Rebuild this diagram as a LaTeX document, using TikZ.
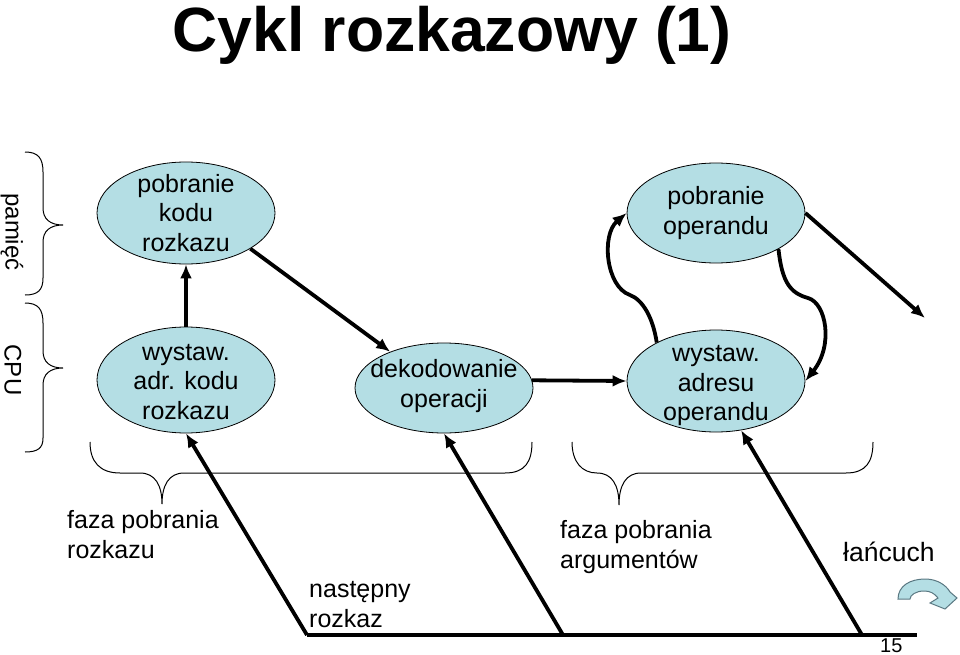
\documentclass[tikz,border=0pt]{standalone}
\usepackage{fontspec}
\setmainfont{Liberation Sans}
\usepackage{xcolor}
\usepackage{tikz}
\usetikzlibrary{shapes,arrows.meta,positioning,calc}
\definecolor{stagefill}{RGB}{180,222,228}
\definecolor{iconline}{RGB}{90,120,130}

\begin{document}
\begin{tikzpicture}[x=1pt,y=-1pt,
  stage/.style={draw, ellipse, fill=stagefill, line width=0.8pt, minimum width=178pt, minimum height=102pt, inner sep=0pt},
  inside/.style={font=\fontsize{25}{29.5}\selectfont, align=center, inner sep=0pt},
  flow/.style={line width=3.8pt, -{Latex[length=14pt,width=12pt]}},
  curly/.style={line width=1pt},
  lbl/.style={font=\fontsize{25}{30}\selectfont, align=left, inner sep=0pt, anchor=north west}]
\useasboundingbox (0,0) rectangle (960,655);

\node[font=\fontsize{62.5}{70}\selectfont\bfseries, anchor=base, inner sep=0pt] (title) at (452,52) {Cykl rozkazowy (1)};

% stany cyklu
\node[stage, label={[inside]center:{pobranie\\kodu\\rozkazu}}] (pk) at (186,213) {};
\node[stage, minimum height=106pt, below of=pk, node distance=167pt, label={[inside, yshift=-2pt]center:{wystaw.\\adr. kodu\\rozkazu}}] (wk) {};
\node[stage, minimum height=90pt, label={[inside, yshift=2pt]center:{dekodowanie\\operacji}}] (dek) at (444,388) {};
\node[stage, minimum height=100pt, label={[inside]center:{pobranie\\operandu}}] (po) at (716,213) {};
\node[stage, below of=po, node distance=168pt, label={[inside, yshift=-5pt]center:{wystaw.\\adresu\\operandu}}] (wa) {};

% klamry z lewej
\draw[curly] (25,152) .. controls (38,152) and (43,158) .. (43,172) -- (43,208) .. controls (43,219) and (50,225) .. (63,225) .. controls (50,225) and (43,231) .. (43,242) -- (43,278) .. controls (43,290) and (38,295) .. (25,295);
\draw[curly] (25,303) .. controls (38,303) and (43,309) .. (43,323) -- (43,351) .. controls (43,362) and (50,368) .. (63,368) .. controls (50,368) and (43,374) .. (43,385) -- (43,438) .. controls (43,448) and (38,452) .. (25,452);
\node[rotate=-90, font=\fontsize{24}{30}\selectfont, inner sep=0pt] (mem) at (12,232) {pamięć};
\node[rotate=-90, font=\fontsize{24}{30}\selectfont, inner sep=0pt] (cpu) at (13,370) {CPU};

% klamry na dole
\draw[curly] (90,442) .. controls (90,462) and (100,473) .. (120,473) -- (140,473) .. controls (155,473) and (162,485) .. (162,504) .. controls (162,485) and (169,473) .. (184,473) -- (505,473) .. controls (525,473) and (532,462) .. (532,442);
\draw[curly] (572,442) .. controls (572,462) and (582,473) .. (597,473) .. controls (612,473) and (619,485) .. (619,505) .. controls (619,485) and (626,473) .. (641,473) -- (846,473) .. controls (866,473) and (873,462) .. (873,442);

% przejscia
\draw[flow] (wk.north) -- (pk.south);
\draw[flow] (pk.-29) -- (dek.146);
\draw[flow] (dek.5) -- (wa.west);
\draw[flow] (wa.147) .. controls (653,318) and (643,300) .. (630,295) .. controls (606,287) and (601,235) .. (po.west);
\draw[flow] (po.-30) .. controls (782,282) and (790,293) .. (808,298) .. controls (826,303) and (834,345) .. (wa.east);
\coordinate (out) at (925,318);
\draw[flow] (po.east) -- (out);

% lancuch na dole
\coordinate (b1) at (307,635);
\coordinate (b2) at (563,635);
\coordinate (b3) at (862,635);
\coordinate (b4) at (917,635);
\draw[line width=4pt] (b1) -- (b4);
\draw[flow] (b1) -- (wk.south);
\draw[flow] (b2) -- (dek.south);
\draw[flow] (b3) -- (wa.-63);

\node[lbl] (fr) at (67,510) {faza pobrania\\rozkazu};
\node[lbl] (nr) at (309,581) {następny\\rozkaz};
\node[lbl] (fa) at (560,520) {faza pobrania\\argumentów};
\node[font=\fontsize{26.5}{30}\selectfont, anchor=base west, inner sep=0pt] (chain) at (843,561) {łańcuch};
\node[font=\fontsize{20}{24}\selectfont, anchor=base west, inner sep=0pt] (page) at (880,652) {15};

% ikonka
\draw[fill=stagefill, draw=iconline, line width=1pt] (898,599) .. controls (898,586) and (910,579) .. (925,579) .. controls (937,579) and (946,585) .. (950,592) -- (957,598) -- (945,609) -- (930,603) -- (938,598) .. controls (934,593) and (930,591) .. (924,591) .. controls (916,591) and (910,595) .. (910,599) -- cycle;
\end{tikzpicture}
\end{document}
